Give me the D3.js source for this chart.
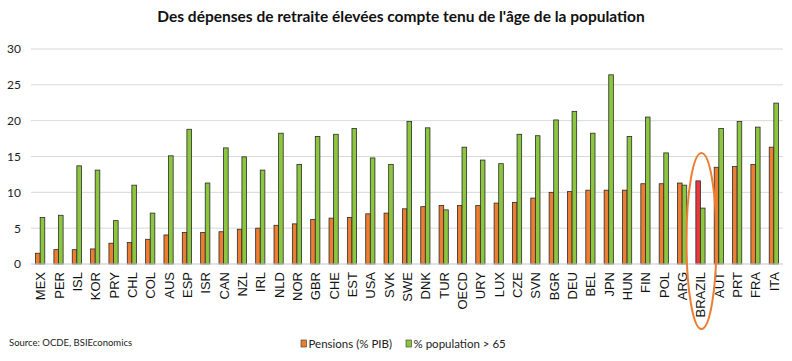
<!DOCTYPE html>
<html>
<head>
<meta charset="utf-8">
<script src="https://cdn.jsdelivr.net/npm/d3@7"></script>
<style>
body { margin: 0; background: #fff; }
svg { display: block; }
</style>
</head>
<body>
<div id="chart"></div>
<script>
var countries = ["MEX","PER","ISL","KOR","PRY","CHL","COL","AUS","ESP","ISR","CAN","NZL","IRL",
  "NLD","NOR","GBR","CHE","EST","USA","SVK","SWE","DNK","TUR","OECD","URY","LUX","CZE",
  "SVN","BGR","DEU","BEL","JPN","HUN","FIN","POL","ARG","BRAZIL","AUT","PRT","FRA","ITA"];
var pensions = [1.5,2.0,2.0,2.1,2.9,3.0,3.45,4.05,4.4,4.4,4.5,4.85,5.0,
  5.4,5.6,6.2,6.4,6.5,7.0,7.1,7.7,8.0,8.15,8.15,8.15,8.5,8.6,
  9.2,10.0,10.1,10.3,10.3,10.3,11.2,11.2,11.3,11.6,13.5,13.6,13.9,16.3];
var pop65 = [6.5,6.8,13.7,13.1,6.05,11.0,7.1,15.1,18.8,11.3,16.2,14.95,13.1,
  18.25,13.9,17.8,18.1,18.9,14.8,13.9,19.9,19.0,7.55,16.3,14.5,14.0,18.1,
  17.9,20.1,21.3,18.25,26.4,17.8,20.5,15.5,11.0,7.8,18.9,19.9,19.1,22.45];
var yTicks = [0,5,10,15,20,25,30];
var highlight = "BRAZIL";

var width = 792, height = 361;
var margin = {left: 31, right: 9, top: 49, bottom: 97};

var svg = d3.select("#chart").append("svg")
  .attr("width", width)
  .attr("height", height);

var x = d3.scaleBand()
  .domain(countries)
  .range([margin.left, width - margin.right]);

var y = d3.scaleLinear()
  .domain([0, 30])
  .range([height - margin.bottom, margin.top]);

// gridlines
svg.append("g")
  .selectAll("line")
  .data(yTicks)
  .enter().append("line")
  .attr("x1", margin.left)
  .attr("x2", width - margin.right)
  .attr("y1", function(d) { return y(d); })
  .attr("y2", function(d) { return y(d); })
  .attr("stroke", "#d9d9d9")
  .attr("stroke-width", 1);

// y axis labels
var yAxis = svg.append("g")
  .attr("transform", "translate(" + (margin.left - 10) + ",0)")
  .call(d3.axisLeft(y).tickValues(yTicks).tickSize(0).tickPadding(0));
yAxis.select(".domain").remove();
yAxis.selectAll("text")
  .attr("font-family", "Lato, 'Open Sans', sans-serif")
  .attr("font-size", 12)
  .attr("fill", "#222");

var barW = 4.6;
var groups = svg.append("g")
  .selectAll("g")
  .data(countries)
  .enter().append("g")
  .attr("transform", function(d) { return "translate(" + (x(d) + x.bandwidth() / 2) + ",0)"; });

groups.append("rect")
  .attr("x", -barW)
  .attr("width", barW)
  .attr("y", function(d, i) { return y(pensions[i]); })
  .attr("height", function(d, i) { return y(0) - y(pensions[i]); })
  .attr("fill", function(d) { return d === highlight ? "#e8383c" : "#ed7d31"; })
  .attr("stroke", "#2b2b2b")
  .attr("stroke-width", 0.8);

groups.append("rect")
  .attr("x", 0)
  .attr("width", barW)
  .attr("y", function(d, i) { return y(pop65[i]); })
  .attr("height", function(d, i) { return y(0) - y(pop65[i]); })
  .attr("fill", "#8cc63f")
  .attr("stroke", "#2b2b2b")
  .attr("stroke-width", 0.8);

// baseline
svg.append("line")
  .attr("x1", margin.left)
  .attr("x2", width - margin.right)
  .attr("y1", y(0))
  .attr("y2", y(0))
  .attr("stroke", "#d9d9d9");

// x labels
svg.append("g")
  .selectAll("text")
  .data(countries)
  .enter().append("text")
  .attr("transform", function(d) { return "translate(" + (x(d) + x.bandwidth() / 2 + 5) + "," + (y(0) + 8) + ") rotate(-90)"; })
  .attr("text-anchor", "end")
  .attr("font-family", "'Liberation Sans', Arial, sans-serif")
  .attr("font-size", 13)
  .attr("fill", "#111")
  .text(function(d) { return d; });

// highlight ellipse
svg.append("ellipse")
  .attr("cx", x(highlight) + x.bandwidth() / 2 + 1)
  .attr("cy", 241)
  .attr("rx", 15)
  .attr("ry", 88)
  .attr("fill", "none")
  .attr("stroke", "#ed7d31")
  .attr("stroke-width", 2);

// title
svg.append("text")
  .attr("x", 401)
  .attr("y", 22)
  .attr("text-anchor", "middle")
  .attr("font-family", "Lato, sans-serif")
  .attr("font-weight", "bold")
  .attr("font-size", 15.5)
  .attr("fill", "#111")
  .text("Des dépenses de retraite élevées compte tenu de l'âge de la population");

// source
svg.append("text")
  .attr("x", 9)
  .attr("y", 346)
  .attr("font-family", "Lato, sans-serif")
  .attr("font-size", 9.5)
  .attr("fill", "#222")
  .text("Source: OCDE, BSIEconomics");

// legend
var legendItems = [
  {label: "Pensions (% PIB)", color: "#ed7d31", x: 301},
  {label: "% population > 65", color: "#8cc63f", x: 406}
];
var leg = svg.append("g")
  .selectAll("g")
  .data(legendItems)
  .enter().append("g")
  .attr("transform", function(d) { return "translate(" + d.x + ",340)"; });
leg.append("rect")
  .attr("width", 5.5)
  .attr("height", 7)
  .attr("fill", function(d) { return d.color; })
  .attr("stroke", "#333")
  .attr("stroke-width", 0.6);
leg.append("text")
  .attr("x", 7.5)
  .attr("y", 7.5)
  .attr("font-family", "Lato, sans-serif")
  .attr("font-size", 11.5)
  .attr("fill", "#222")
  .text(function(d) { return d.label; });
</script>
</body>
</html>
